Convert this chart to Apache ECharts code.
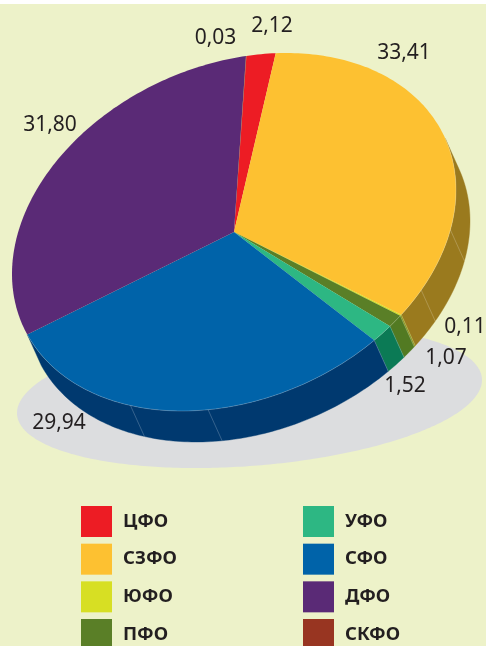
<!DOCTYPE html>
<html>
<head>
<meta charset="utf-8">
<style>html,body{margin:0;padding:0;background:#fff}#c{width:486px;height:646px}</style>
<script src="https://cdn.jsdelivr.net/npm/echarts@6/dist/echarts.min.js"></script>
</head>
<body>
<div id="c"></div>
<script>
const categories = ['ЦФО','СЗФО','ЮФО','ПФО','УФО','СФО','ДФО','СКФО'];
const values = [2.12,33.41,0.11,1.07,1.52,29.94,31.80,0.03];
const legendLeft = ['ЦФО','СЗФО','ЮФО','ПФО'];
const legendRight = ['УФО','СФО','ДФО','СКФО'];

const topColors = ['#ed1c24','#fdc131','#d7df23','#5a7f27','#2db783','#0063a9','#5a2a76','#983521'];
const sideColors = [null,'#9a7a1e','#8f9410','#527a22','#0b7a55','#00396f',null,null];
const labelAnchors = [[272,26],[404,53],[465,327],[446,358],[405,386],[59,423],[50,125],[215.5,38]];
const sideFacets = [12.9,32.5,96.7,117.8];

const FONT = '"Noto Sans","Open Sans",sans-serif';
const rad = Math.PI/180;
const disc = {cx:234,cy:232,a:222,b:-42,c:174};
const shadow = {cx:249.5,cy:396.5,a:232.5,b:-16.5,c:69.6};
const extrude = {dx:14,dy:31};
const startAngle = -86.8, sideStart = -18;

const pt = (e,t,ox=0,oy=0)=>{
  const u=Math.cos(t*rad), v=Math.sin(t*rad);
  return [e.cx+e.a*u+ox, e.cy+e.b*u+e.c*v+oy];
};
const arc = (e,a,b,ox,oy)=>{
  const out=[], n=Math.max(1,Math.ceil(Math.abs(b-a)));
  for(let i=0;i<=n;i++) out.push(pt(e,a+(b-a)*i/n,ox,oy));
  return out;
};
const total = values.reduce((s,v)=>s+v,0);
const edges = [startAngle];
values.forEach(v=>edges.push(edges[edges.length-1]+v/total*360));

function wedge(params){
  const i=params.seriesIndex-1, a=edges[i], b=edges[i+1], ch=[];
  const rimColor='rgba(255,255,255,0.3)';
  if(sideColors[i]){
    const s=Math.max(a,sideStart);
    const top=arc(disc,s,b), low=arc(disc,s,b,extrude.dx,extrude.dy).reverse();
    ch.push({type:'polygon',shape:{points:top.concat(low)},style:{fill:sideColors[i],stroke:sideColors[i],lineWidth:0.4}});
    sideFacets.filter(t=>t>s&&t<b).concat(a>=sideStart&&i>1?[a]:[]).forEach(t=>{
      const p=pt(disc,t), q=pt(disc,t,extrude.dx,extrude.dy);
      ch.push({type:'line',shape:{x1:p[0],y1:p[1],x2:q[0],y2:q[1]},style:{stroke:rimColor,lineWidth:0.7}});
    });
  }
  ch.push({type:'polygon',shape:{points:[[disc.cx,disc.cy]].concat(arc(disc,a,b))},style:{fill:topColors[i]}});
  if(sideColors[i]){
    ch.push({type:'polyline',shape:{points:arc(disc,Math.max(a,sideStart),b)},style:{fill:'none',stroke:rimColor,lineWidth:0.7}});
  }
  ch.push({type:'text',z2:10,style:{text:values[i].toFixed(2).replace('.',','),x:labelAnchors[i][0],y:labelAnchors[i][1],
    fill:'#231f20',font:'21px '+FONT,align:'center',verticalAlign:'middle'}});
  return {type:'group',children:ch};
}

const series=[{
  type:'custom',name:'тень',coordinateSystem:'none',silent:true,data:[[0]],
  renderItem:()=>({type:'polygon',shape:{points:arc(shadow,0,360)},style:{fill:'#dcdddf'}})
}];
categories.forEach((name,i)=>series.push({
  type:'custom',name,coordinateSystem:'none',silent:true,
  itemStyle:{color:topColors[i]},data:[[values[i]]],renderItem:wedge
}));
const legendBase={orient:'vertical',top:506,height:300,padding:0,itemWidth:31,itemHeight:31,itemGap:6.67,icon:'rect',selectedMode:false,
  textStyle:{fontFamily:FONT,fontWeight:'bold',fontSize:18.5,color:'#231f20',padding:[0,0,0,6]}};
const chart=echarts.init(document.getElementById('c'),null,{renderer:'canvas'});
chart.setOption({
  animation:false,
  backgroundColor:'#ffffff',
  graphic:[{type:'rect',z:-100,silent:true,shape:{x:0,y:4,width:486,height:642},style:{fill:'#edf2c9'}}],
  legend:[Object.assign({},legendBase,{left:81,data:legendLeft}),Object.assign({},legendBase,{left:303,data:legendRight})],
  series
});
</script>
</body>
</html>
